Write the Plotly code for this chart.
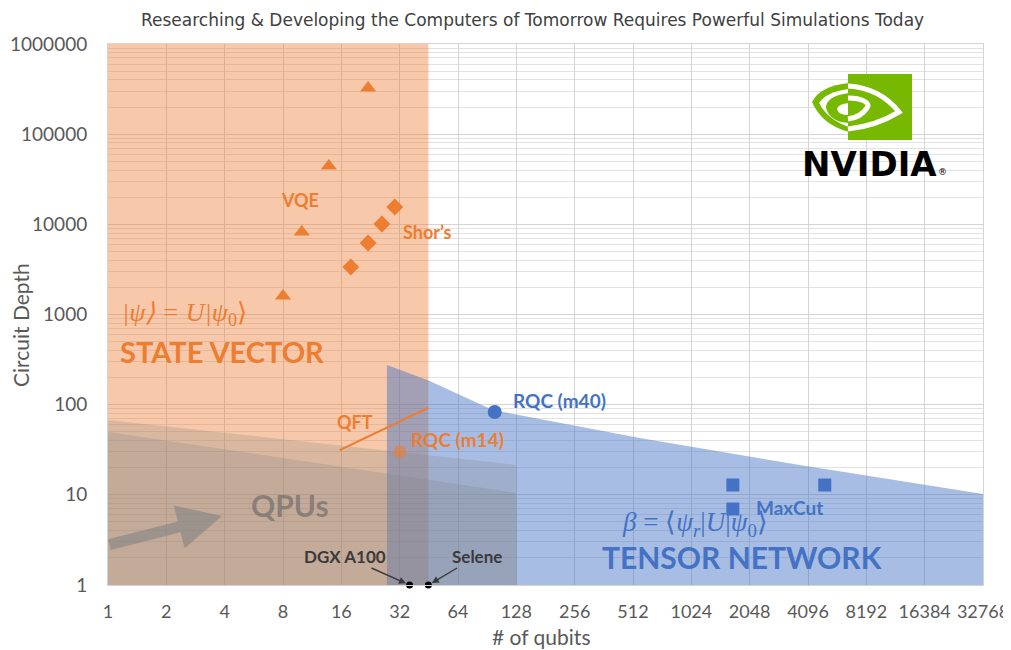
import numpy as np
import plotly.graph_objects as go

# axes
qubit_ticks = [1, 2, 4, 8, 16, 32, 64, 128, 256, 512, 1024, 2048, 4096, 8192, 16384, 32768]
depth_ticks = [1, 10, 100, 1000, 10000, 100000, 1000000]
depth_minor = [m * d for d in depth_ticks[:-1] for m in range(2, 10)]

# simulation regimes (outline of each region, qubits vs circuit depth)
state_vector_qubits = [1, 1, 45, 45]
state_vector_depth = [1, 1000000, 1000000, 1]
tensor_qubits = [27.5, 27.5, 44.8, 96.9, 555, 3716, 32768, 32768]
tensor_depth = [1, 275, 187, 87, 42.7, 21.4, 10.2, 1]
qpu_outer_qubits = [1, 1, 128, 128]
qpu_outer_depth = [1, 67.6, 21.4, 1]
qpu_inner_qubits = [1, 1, 128, 128]
qpu_inner_depth = [1, 49.8, 10.5, 1]

# algorithms
vqe_qubits = [8, 10, 13.8, 22]
vqe_depth = [1600, 8220, 44400, 325000]
shor_qubits = [17.9, 22, 25.9, 30.2]
shor_depth = [3360, 6210, 10090, 15560]
qft_qubits = [15.7, 44.8]
qft_depth = [31.4, 91.8]
rqc14_qubits = [32]
rqc14_depth = [30]
rqc40_qubits = [99]
rqc40_depth = [83]
maxcut_qubits = [1677, 1677, 5000]
maxcut_depth = [12.85, 6.96, 12.85]
systems = ["DGX A100", "Selene"]
system_qubits = [36, 45]
system_depth = [1, 1]

ORANGE = "#ED7D31"
BLUE = "#4472C4"
GRID = "#D4D4D4"
TICK = "#595959"
LABEL_FONT = "Lato"
PAGE = 8  # default body margin of the html page

fig = go.Figure()

# regions
fig.add_trace(go.Scatter(x=state_vector_qubits, y=state_vector_depth, fill="toself",
                         fillcolor="rgba(237,125,49,0.42)", mode="none", hoverinfo="skip"))
fig.add_trace(go.Scatter(x=tensor_qubits, y=tensor_depth, fill="toself",
                         fillcolor="rgba(68,114,196,0.47)", mode="none", hoverinfo="skip"))
fig.add_trace(go.Scatter(x=qpu_outer_qubits, y=qpu_outer_depth, fill="toself",
                         fillcolor="rgba(130,130,130,0.25)", mode="none", hoverinfo="skip"))
fig.add_trace(go.Scatter(x=qpu_inner_qubits, y=qpu_inner_depth, fill="toself",
                         fillcolor="rgba(130,130,130,0.25)", mode="none", hoverinfo="skip"))

# points
fig.add_trace(go.Scatter(x=vqe_qubits, y=vqe_depth, mode="markers",
                         marker=dict(symbol="triangle-up", size=14, color=ORANGE)))
fig.add_trace(go.Scatter(x=shor_qubits, y=shor_depth, mode="markers",
                         marker=dict(symbol="diamond", size=13, color=ORANGE)))
fig.add_trace(go.Scatter(x=qft_qubits, y=qft_depth, mode="lines",
                         line=dict(color=ORANGE, width=2)))
fig.add_trace(go.Scatter(x=rqc14_qubits, y=rqc14_depth, mode="markers",
                         marker=dict(symbol="circle", size=13, color="rgba(237,125,49,0.6)")))
fig.add_trace(go.Scatter(x=rqc40_qubits, y=rqc40_depth, mode="markers",
                         marker=dict(symbol="circle", size=14, color=BLUE)))
fig.add_trace(go.Scatter(x=maxcut_qubits, y=maxcut_depth, mode="markers",
                         marker=dict(symbol="square", size=13, color=BLUE)))
fig.add_trace(go.Scatter(x=system_qubits, y=system_depth, mode="markers", cliponaxis=False,
                         marker=dict(symbol="circle", size=7, color="black")))


def label(text, x, y, color, size, **kw):
    fig.add_annotation(text=text, x=np.log10(x), y=np.log10(y), showarrow=kw.pop("showarrow", False),
                       font=dict(family=kw.pop("family", LABEL_FONT), size=size, color=color), **kw)


label("<b>VQE</b>", 9.8, 18600, ORANGE, 18)
label("<b>Shor’s</b>", 44.8, 8220, ORANGE, 18)
label("<b>QFT</b>", 18.8, 64.3, ORANGE, 18)
label("<b>RQC (m14)</b>", 63.3, 40.6, ORANGE, 19)
label("<b>RQC (m40)</b>", 215, 110, BLUE, 19)
label("<b>MaxCut</b>", 3300, 7.33, BLUE, 19)
label("<b>STATE VECTOR</b>", 1.126, 384, ORANGE, 29, xanchor="left")
label("<b>TENSOR NETWORK</b>", 1870, 2.05, BLUE, 30)
label("<b>QPUs</b>", 8.7, 7.71, "rgba(100,100,100,0.6)", 30)
label("<i>|ψ⟩ = U|ψ</i><sub>0</sub>⟩", 1.153, 1012, ORANGE, 26, family="Liberation Serif", xanchor="left")
label("<i>β</i> = ⟨<i>ψ</i><sub><i>r</i></sub>|<i>U</i>|<i>ψ</i><sub>0</sub>⟩", 1068, 4.75, BLUE, 27,
      family="Liberation Serif")

# system arrows
for name, q, d, ax in zip(systems, system_qubits, system_depth, [-65, 49]):
    label(f"<b>{name}</b>", q, d, "#3A3A3A", 17, showarrow=True, ax=ax, ay=-29,
          arrowhead=2, arrowsize=1, arrowwidth=1.4, arrowcolor="#3A3A3A", standoff=4)

# QPU growth arrow
fig.add_annotation(x=np.log10(3.87), y=np.log10(5.82), ax=-114, ay=29, text="", showarrow=True,
                   arrowhead=2, arrowsize=0.8, arrowwidth=11, arrowcolor="rgba(135,135,135,0.65)")


# NVIDIA logo, drawn in screen pixels and mapped to the plot's paper coordinates
def svg(*segs):
    out = []
    for seg in segs:
        if seg == "Z":
            out.append("Z")
            continue
        out.append(seg[0] + " " + " ".join(f"{(px - 108) / 875:.5f},{(585 - py) / 541:.5f}" for px, py in seg[1:]))
    return " ".join(out)


GREEN = "#76B900"
logo = [
    (svg(("M", (849, 83)), ("Q", (820, 86), (812, 102)), ("Q", (822, 125), (849, 132)), "Z"), GREEN),
    (svg(("M", (849, 89)), ("Q", (826, 92), (819, 103)), ("Q", (828, 120), (849, 127)), "Z"), "white"),
    (svg(("M", (849, 93)), ("Q", (826, 96), (826, 108)), ("Q", (830, 122), (849, 123)), "Z"), GREEN),
    (svg(("M", (849, 103)), ("Q", (838, 104), (837, 109)), ("Q", (838, 115), (849, 115)), "Z"), "white"),
    (svg(("M", (848, 74)), ("L", (912, 74)), ("L", (912, 140)), ("L", (848, 140)), "Z"), GREEN),
]
for path, color in logo:
    fig.add_shape(type="path", path=path, xref="paper", yref="paper", fillcolor=color, line_width=0)
for path in [
    svg(("M", (848, 86)), ("Q", (880, 88), (899, 112)), ("Q", (876, 126), (848, 129))),
    svg(("M", (848, 98)), ("C", (862, 98), (871, 103), (867, 108)), ("C", (863, 114), (856, 118), (848, 119))),
]:
    fig.add_shape(type="path", path=path, xref="paper", yref="paper", line=dict(color="white", width=5))


def paper_text(text, px, py, size, color, family=LABEL_FONT, yanchor="middle", **kw):
    fig.add_annotation(text=text, xref="paper", yref="paper", x=(px - 108) / 875, y=(585 - py) / 541,
                       xanchor="center", yanchor=yanchor, showarrow=False,
                       font=dict(family=family, size=size, color=color), **kw)


paper_text("<b>NVIDIA</b>", 869, 164, 34, "black", family="DejaVu Sans")
paper_text("®", 942, 172, 9, "black", family="DejaVu Sans")

# title and axis titles
paper_text("Researching &amp; Developing the Computers of Tomorrow Requires Powerful Simulations Today",
           532, PAGE + 1, 17, "#404040", family="DejaVu Sans", yanchor="top", borderpad=0)
paper_text("Circuit Depth", 20, 325, 21, TICK, textangle=-90)
paper_text("# of qubits", 541, 636, 21, TICK)

fig.update_xaxes(type="log", range=[0, np.log10(32768)], tickmode="array", tickvals=qubit_ticks,
                 ticktext=[str(v) for v in qubit_ticks], showgrid=True, gridcolor=GRID,
                 showline=True, mirror=True, linecolor=GRID, zeroline=False, ticks="", automargin=False,
                 ticklabelstandoff=10, tickfont=dict(family=LABEL_FONT, size=18, color=TICK))
fig.update_yaxes(type="log", range=[0, 6], tickmode="array", tickvals=depth_ticks,
                 ticktext=[str(v) for v in depth_ticks], showgrid=True, gridcolor=GRID,
                 minor=dict(tickmode="array", tickvals=depth_minor, showgrid=True, gridcolor="#E2E2E2"),
                 showline=True, mirror=True, linecolor=GRID, zeroline=False, ticks="", automargin=False,
                 ticklabelstandoff=16, tickfont=dict(family=LABEL_FONT, size=19, color=TICK))

# the page shows the figure from screen (8, 8); plot area sits at screen x 108..983, y 44..585
W, H = 1011 - PAGE, 650 - PAGE
fig.update_layout(
    width=W,
    height=H,
    margin=dict(l=108 - PAGE, r=W - (983 - PAGE), t=44 - PAGE, b=H - (585 - PAGE), autoexpand=False),
    paper_bgcolor="white",
    plot_bgcolor="white",
    showlegend=False,
)

fig.write_html("out.html")
